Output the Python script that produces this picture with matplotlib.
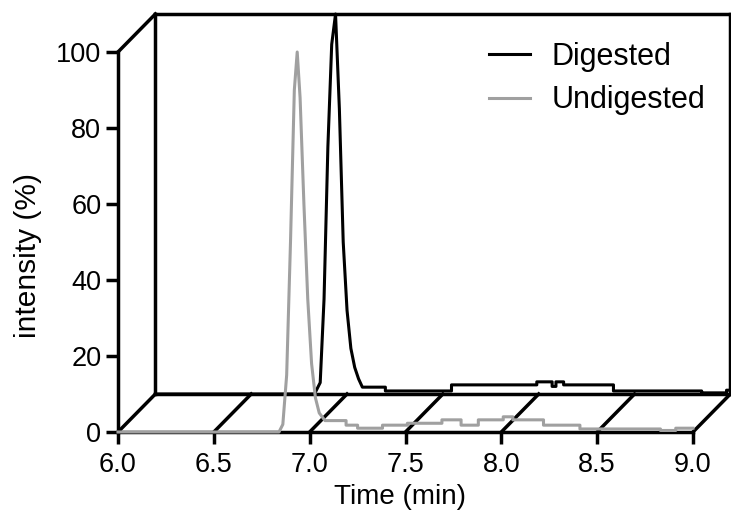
import matplotlib
matplotlib.use("Agg")
import matplotlib.pyplot as plt

plt.rcParams['font.family'] = ['Liberation Sans', 'DejaVu Sans']

# Undigested trace (front plane)
time_undigested = [6.00, 6.84, 6.86, 6.88, 6.90, 6.92, 6.935, 6.95, 6.97, 6.99, 7.01, 7.03, 7.05,
                   7.08, 7.19, 7.19, 7.25, 7.25, 7.38, 7.38, 7.51, 7.51, 7.69, 7.69, 7.79, 7.79,
                   7.88, 7.88, 8.01, 8.01, 8.06, 8.06, 8.22, 8.22, 8.41, 8.41, 8.83, 8.83, 8.91,
                   8.91, 9.00]
int_undigested = [0, 0, 2, 15, 50, 90, 100, 88, 60, 35, 18, 9, 5,
                  3, 3, 1.8, 1.8, 1.0, 1.0, 1.8, 1.8, 2.3, 2.3, 3.2, 3.2, 1.8,
                  1.8, 3.2, 3.2, 4.0, 4.0, 3.2, 3.2, 1.8, 1.8, 0.8, 0.8, 0.4, 0.4,
                  1.0, 1.0]

# Digested trace (back plane)
time_digested = [6.00, 6.83, 6.86, 6.88, 6.90, 6.92, 6.94, 6.96, 6.98, 7.00, 7.02, 7.04, 7.06,
                 7.08, 7.20, 7.20, 7.545, 7.545, 7.99, 7.99, 8.07, 8.07, 8.09, 8.09, 8.13, 8.13,
                 8.39, 8.39, 8.85, 8.85, 8.98, 8.98, 9.00]
int_digested = [0, 0, 3, 25, 65, 92, 100, 75, 40, 22, 12, 7, 4,
                1.8, 1.8, 0.8, 0.8, 2.4, 2.4, 3.2, 3.2, 2.0, 2.0, 3.2, 3.2, 2.4,
                2.4, 0.8, 0.8, 0.3, 0.3, 1.0, 1.0]

x_ticks = [6.0, 6.5, 7.0, 7.5, 8.0, 8.5, 9.0]
y_ticks = [0, 20, 40, 60, 80, 100]

# depth offset of the back plane, in data units
dx = 0.195
dy = 10.0

W, H = 731, 521
fig = plt.figure(figsize=(W / 100, H / 100), dpi=100)
ax = fig.add_axes([118 / W, (H - 432) / H, 575 / W, 380 / H])
ax.set_xlim(6, 9)
ax.set_ylim(0, 100)

lw_axis = 2.5
ax.spines['top'].set_visible(False)
ax.spines['right'].set_visible(False)
ax.spines['left'].set_linewidth(lw_axis)
ax.spines['bottom'].set_linewidth(lw_axis)
ax.spines['left'].set_zorder(1)
ax.spines['bottom'].set_zorder(1)
ax.set_xticks(x_ticks)
ax.set_yticks(y_ticks)
ax.set_xticklabels([f"{t:.1f}" for t in x_ticks])
ax.tick_params(axis='both', direction='out', length=8.5, width=lw_axis,
               labelsize=19.5)
ax.tick_params(axis='x', pad=6)
ax.tick_params(axis='y', pad=3.5)

# pseudo-3D frame
frame = dict(color='black', lw=lw_axis, clip_on=False, zorder=1,
             solid_capstyle='projecting')
ax.plot([6, 6 + dx], [100, 100 + dy], **frame)
ax.plot([6 + dx, 6 + dx], [dy, 100 + dy], **frame)
ax.plot([6 + dx, 9 + dx], [100 + dy, 100 + dy], **frame)
ax.plot([9 + dx, 9 + dx], [dy, 100 + dy], **frame)
ax.plot([6 + dx, 9 + dx], [dy, dy], **frame)
for t in x_ticks:
    ax.plot([t, t + dx], [0, dy], **frame)

# traces
ax.plot([t + dx for t in time_digested], [v + dy for v in int_digested],
        color='black', lw=2.2, clip_on=False, zorder=3, label='Digested')
ax.plot(time_undigested, int_undigested, color='#a0a0a0', lw=2.2,
        clip_on=False, zorder=4, label='Undigested')

ax.legend(loc='upper left', bbox_to_anchor=(489 / W, 1 - 42 / H),
          bbox_transform=fig.transFigure, frameon=False, fontsize=22,
          borderpad=0, borderaxespad=0, handlelength=1.35,
          handletextpad=0.7, labelspacing=0.44)

fig.text(28 / W, 1 - 256 / H, 'intensity (%)', rotation=90, ha='center',
         va='center', fontsize=21.5)
fig.text(400 / W, 1 - 497 / H, 'Time (min)', ha='center', va='center',
         fontsize=20)

fig.savefig('out.png', dpi=100)
